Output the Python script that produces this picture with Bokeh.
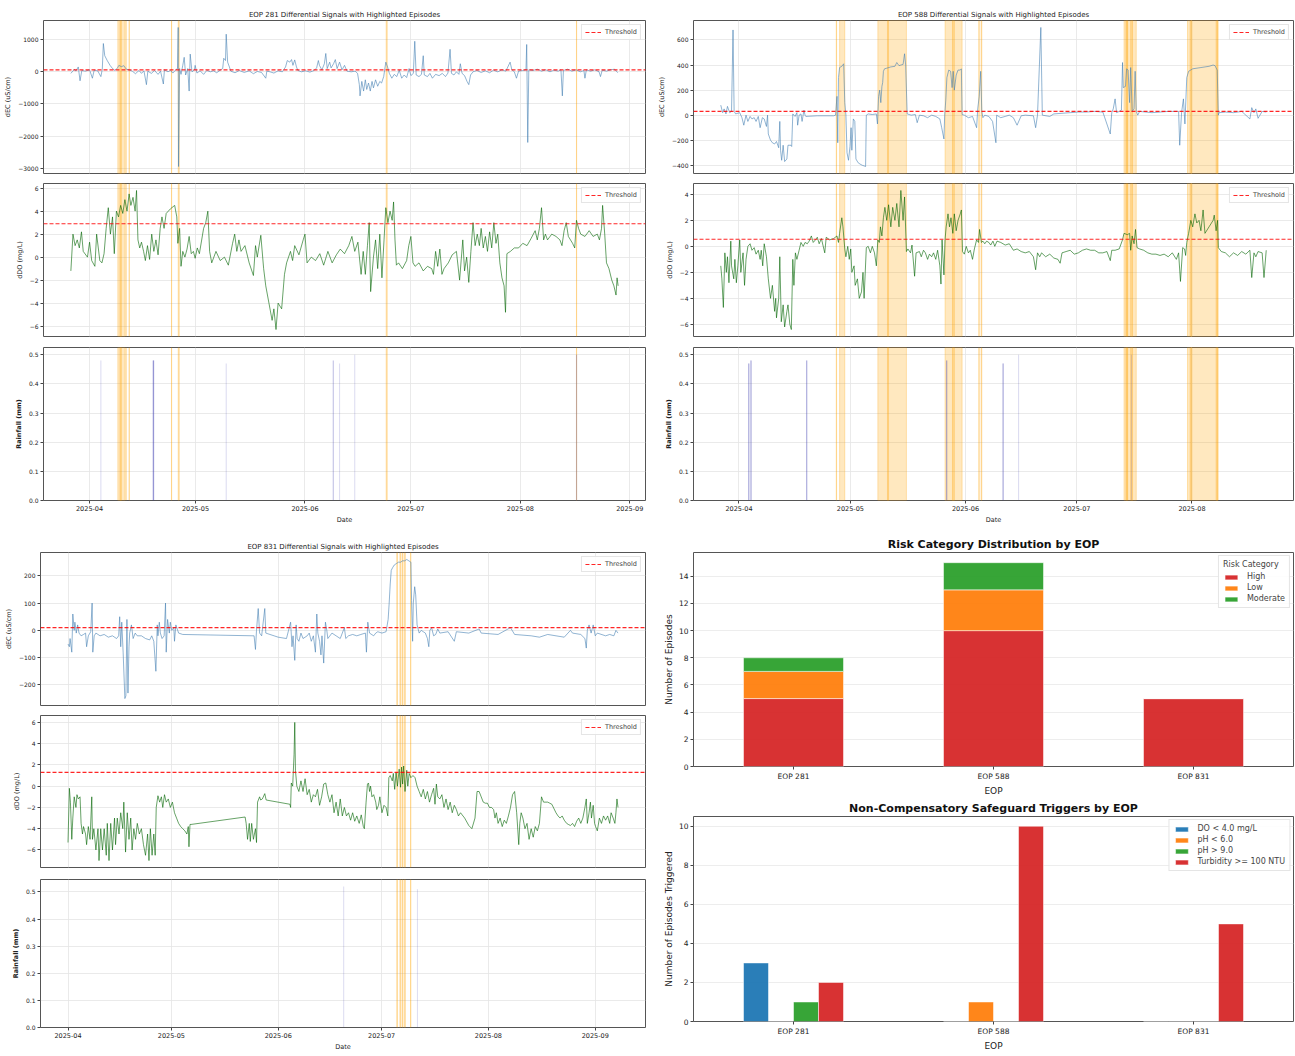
import calendar
import datetime as dt
from bokeh.plotting import figure
from bokeh.layouts import column, row
from bokeh.models import (Range1d, FactorRange, BoxAnnotation, Legend, LegendItem,
                          SingleIntervalTicker, MonthsTicker, DatetimeTickFormatter,
                          CustomJSTickFormatter, ColumnDataSource)
from bokeh.transform import dodge
from bokeh.embed import file_html
from bokeh.resources import INLINE

# ---------------- DATA (days since 2025-04-01) ----------------
ec281_day = [-5.3,-4.3,-3.9,-3.2,-2.7,-2.2,-1.2,0.0,0.8,1.3,2.3,3.2,3.6,3.9,4.3,5.0,5.8,6.5,7.2,7.9,8.3,9.0,9.7,10.4,11.2,12.1,13.0,14.0,14.7,15.4,16.1,16.5,17.5,18.4,19.4,20.1,20.9,21.2,22.2,22.9,23.6,24.4,24.9,25.1,25.2,25.5,25.9,26.4,26.8,27.2,27.8,28.2,28.5,29.0,29.7,29.9,30.4,31.3,32.3,33.2,34.2,35.1,36.0,37.0,37.7,38.0,38.5,38.7,39.1,39.6,40.0,41.2,42.4,43.8,45.2,46.4,47.5,48.7,49.9,50.2,51.1,52.2,53.4,54.6,55.5,56.0,56.7,57.2,57.6,58.1,58.6,59.0,60.0,61.2,62.4,63.6,64.3,64.8,65.1,65.8,66.5,66.9,67.3,68.0,68.4,69.1,69.6,70.1,70.8,71.5,72.2,72.9,74.1,75.2,75.9,76.4,76.6,77.1,77.6,78.1,78.5,79.0,79.5,80.0,80.4,81.0,81.6,82.2,82.7,83.3,83.9,84.4,84.9,85.6,86.3,87.0,87.7,88.4,89.1,89.8,90.5,91.0,91.7,92.1,92.5,93.3,94.0,94.5,94.8,95.7,96.4,97.1,98.0,99.0,99.9,100.8,101.5,102.1,102.5,103.2,103.9,104.6,105.0,105.5,106.2,106.9,107.4,107.9,108.6,109.7,110.9,112.1,113.3,114.4,115.6,116.8,117.9,119.1,119.6,120.3,120.9,121.5,122.7,123.6,123.8,124.1,124.4,125.6,126.8,128.0,129.2,130.4,131.5,132.7,133.5,133.9,134.2,135.4,136.6,137.8,139.0,140.0,140.3,140.7,141.9,143.1,144.3,144.7,145.2,146.4,147.5,148.7,149.6]
ec281_val = [-50,80,20,150,-280,40,20,60,-200,50,30,-150,80,880,500,350,200,100,40,120,200,160,190,80,60,20,-60,40,-50,30,-400,20,-50,40,-80,20,-380,60,0,40,-40,60,100,1380,-2950,100,-80,200,450,-100,100,-600,550,0,60,200,-40,30,-80,40,0,30,-30,50,100,420,350,1170,300,150,20,-30,40,-20,30,-60,10,-20,-200,20,0,-40,30,0,150,350,300,380,200,370,150,40,0,30,-10,40,120,350,200,60,250,570,100,300,120,250,380,100,300,60,200,20,0,20,-50,-400,-750,-300,-600,-250,-550,-350,-600,-300,-500,-250,-450,-300,-350,-150,300,150,-50,-200,-80,-150,50,-200,-100,-180,100,-120,-50,950,-100,-150,-80,500,-100,-150,-50,-200,-80,-120,-50,-150,-40,700,-50,-100,0,-80,250,-50,-120,-300,-400,-100,0,40,-20,30,-30,50,0,60,20,300,60,0,-200,20,40,60,850,-2200,60,40,80,20,60,0,50,20,60,-750,40,80,20,60,0,40,-200,60,20,60,0,-150,50,20,60,80,-30]

do281_day = [-5.3,-4.7,-4.1,-3.5,-2.9,-2.3,-1.8,-0.6,0.0,0.6,1.5,2.0,2.9,3.5,4.1,4.7,5.3,5.9,6.5,7.0,7.6,8.2,8.8,9.4,10.0,10.6,11.2,11.7,12.3,12.9,13.3,13.7,14.2,14.7,15.3,15.8,16.4,17.0,17.6,18.2,18.8,19.4,20.0,20.5,21.1,21.7,22.9,24.1,24.7,25.0,25.5,25.9,26.4,27.0,27.6,28.2,28.8,29.4,29.9,30.5,31.1,32.3,32.9,33.5,34.0,34.6,35.8,37.0,38.2,39.3,40.5,41.1,41.7,42.3,42.9,44.0,45.2,46.4,47.0,47.5,48.5,49.3,49.9,50.8,51.7,52.2,52.8,53.4,54.4,55.2,55.8,56.9,57.5,58.1,59.3,60.5,61.0,61.6,62.8,64.0,65.2,66.3,67.5,68.7,69.9,71.0,72.2,73.4,74.3,75.1,76.0,76.9,77.5,78.1,78.7,79.2,79.6,80.4,81.0,81.6,82.2,82.8,83.4,83.9,84.5,85.1,85.7,86.1,86.5,86.9,87.5,88.6,89.8,90.4,91.0,91.6,92.2,93.3,94.5,95.7,96.9,97.4,98.0,98.6,99.2,99.8,100.4,101.6,102.7,103.9,104.8,105.7,106.2,106.8,107.4,108.0,108.6,109.2,109.8,110.4,110.9,111.5,112.1,112.7,113.3,113.9,114.5,115.1,115.6,116.2,116.8,117.4,117.8,118.2,119.2,120.3,121.5,122.7,123.9,125.0,126.2,126.8,127.4,128.0,128.6,129.1,129.7,130.9,132.1,133.2,133.8,134.4,135.0,135.6,136.8,137.4,137.9,138.5,139.1,140.3,141.5,142.6,143.8,144.4,145.0,145.3,145.9,146.4,147.1,147.9,148.5,149.1,149.4,149.7]
do281_val = [-1.2,2.0,1.0,1.5,0.8,2.2,0.5,0.0,1.3,-0.3,-0.8,2.0,-0.3,-0.5,0.3,2.5,4.3,2.0,3.5,0.3,4.0,3.5,4.5,3.8,5.0,4.0,5.5,4.5,5.2,4.0,5.8,1.5,0.8,1.3,0.5,-0.3,1.0,-0.2,2.0,0.5,1.5,0.2,2.5,3.5,2.5,3.8,4.2,4.5,3.5,1.2,2.5,-0.8,0.5,0.0,0.7,1.8,0.3,0.5,-0.1,0.8,0.3,2.5,3.0,4.0,0.5,-0.5,0.5,-0.3,0.0,-0.7,1.2,2.0,0.5,1.5,0.5,1.0,-0.5,-1.6,1.0,0.0,1.9,-1.0,-2.5,-4.0,-5.5,-4.5,-6.3,-4.0,-4.5,-1.5,-0.5,0.5,-0.3,1.0,0.2,1.5,2.0,-0.5,0.0,-0.3,0.3,-0.7,0.5,-0.5,0.2,0.7,0.3,1.0,1.8,0.5,1.3,-1.5,0.5,-1.5,1.0,3.0,-3.0,0.0,1.5,-1.0,2.0,-1.8,1.5,4.3,3.0,4.0,3.2,4.8,1.5,-0.7,-0.5,-1.0,-0.3,1.0,1.8,-0.5,-0.8,-0.5,-1.2,-0.8,-1.0,-1.5,0.5,-0.8,0.7,-1.5,-1.0,-0.5,0.2,0.5,-2.0,1.5,-1.2,0.0,-2.2,0.5,3.0,1.0,2.0,1.0,2.5,0.8,1.8,0.5,2.2,0.8,3.0,1.2,2.0,-0.5,-1.8,-2.5,-4.8,0.3,0.5,0.8,0.8,1.2,1.0,1.6,2.3,1.5,2.5,4.3,1.5,2.0,1.5,2.0,1.8,1.5,1.0,2.3,3.0,1.8,1.2,0.8,3.2,2.5,2.0,1.8,2.3,1.8,2.0,1.5,2.5,4.5,2.0,-0.5,-1.0,-2.0,-2.5,-3.3,-1.8,-2.5]

rain281_day = [3.2,18.0,18.04,18.08,18.13,18.17,38.7,69.0,69.04,70.8,75.1,137.9,137.94]
rain281_mm = [0.48,0.48,0.48,0.48,0.48,0.48,0.47,0.48,0.48,0.47,0.50,0.50,0.50]
ep281_start = [8.0,8.6,10.3,11.2,23.2,25.1,84.0,137.9]
ep281_end = [9.0,10.0,10.35,11.25,23.25,25.4,84.3,137.95]
thr281_ec = 60
thr281_do = 2.9

ec588_day = [-4.9,-4.4,-4.0,-3.5,-3.1,-2.5,-2.0,-1.6,-1.3,-0.9,0.2,0.8,1.3,1.9,2.4,3.0,3.5,4.1,4.6,5.2,5.7,6.3,6.8,7.4,7.7,7.9,8.5,9.0,9.6,10.1,10.7,11.0,11.2,11.5,11.9,12.3,12.9,13.2,14.0,14.2,14.5,15.1,15.6,15.8,16.2,16.7,17.0,17.5,17.8,18.0,21.1,25.5,26.0,26.4,26.6,26.8,27.1,27.7,28.2,28.5,28.8,29.1,29.5,29.9,30.2,30.4,30.8,31.2,31.5,32.1,32.6,33.2,33.7,34.1,34.3,34.8,35.9,37.0,37.3,37.6,37.9,38.2,38.5,38.7,38.9,39.2,39.8,40.9,42.0,42.5,43.1,43.6,44.2,44.6,44.9,45.3,46.4,47.5,48.0,48.6,49.7,50.8,51.9,53.0,54.1,54.6,55.2,55.4,55.7,56.0,56.5,57.0,57.4,57.7,58.0,58.5,59.0,59.6,59.9,60.1,60.7,61.8,62.9,64.0,64.3,64.7,65.1,65.4,65.7,66.2,67.3,68.3,69.2,69.4,70.5,71.7,72.8,73.9,74.9,76.0,77.1,79.3,79.9,80.4,81.3,81.7,83.7,84.8,87.0,89.2,91.4,93.6,95.8,98.0,100.0,100.4,100.8,101.3,101.7,102.4,103.0,103.3,103.5,104.1,104.4,104.8,105.2,105.5,105.9,106.4,106.7,107.0,107.4,107.9,111.2,115.6,118.4,118.7,119.2,119.7,120.1,120.6,121.1,122.2,124.4,126.6,127.7,128.2,128.8,129.1,129.3,131.0,133.2,135.4,137.6,138.1,138.7,139.2,139.8,140.9,142.0]
ec588_val = [80,20,50,10,70,20,30,680,30,10,20,-20,-80,0,-50,-10,-30,-20,-50,-10,-100,-20,-30,-90,0,-150,-200,-220,-230,-210,-260,-50,-280,-360,-240,-370,-350,-240,-240,-250,10,-10,20,-80,0,10,-50,40,0,-10,-5,-5,0,150,-220,300,380,390,410,100,0,-300,-360,-250,-100,-280,-30,-50,-350,-380,-390,-400,-405,-410,0,10,5,10,-70,150,200,100,230,260,350,370,375,385,390,420,395,400,405,490,400,10,0,5,-60,0,-5,-20,0,-10,-30,-100,-190,0,120,300,360,350,220,350,200,320,360,360,370,5,0,-20,-10,-100,50,150,350,30,-20,0,-10,-50,-220,0,-20,-10,0,-20,-80,-5,0,-5,-100,0,700,0,-10,10,15,20,25,25,30,25,-150,20,50,130,20,30,40,420,220,230,370,360,100,380,30,50,350,30,0,30,20,30,30,-240,20,130,-70,300,350,370,380,390,400,395,360,0,20,25,20,30,-30,60,20,50,-25,30,25]

do588_day = [-4.9,-4.6,-4.2,-3.8,-3.4,-3.1,-2.7,-2.2,-2.0,-1.4,-1.1,-0.7,-0.3,0.2,0.5,1.1,1.5,1.9,2.4,3.0,3.5,4.1,4.6,5.2,5.7,6.0,6.4,6.8,7.4,7.9,8.5,9.0,9.6,9.9,10.1,10.7,11.0,11.4,11.9,12.3,12.9,13.2,13.7,14.1,14.5,14.8,15.2,15.6,16.2,16.7,17.3,17.8,18.4,18.9,19.5,20.0,20.6,21.1,21.6,22.2,23.1,23.5,24.4,25.5,26.4,26.8,27.1,27.7,28.0,28.5,28.8,29.3,29.7,30.1,30.4,31.0,31.3,31.9,32.4,33.0,33.4,33.7,34.3,34.8,35.4,35.9,36.5,37.0,37.4,37.8,38.1,38.5,38.9,39.3,39.8,40.3,40.9,41.4,42.0,42.5,43.1,43.6,44.2,44.6,45.1,45.5,46.2,46.6,47.3,47.7,48.6,49.1,49.7,50.2,50.8,51.3,51.9,52.4,53.0,53.5,54.1,54.4,54.7,55.2,55.5,55.8,56.3,56.7,57.1,57.6,58.0,58.5,59.0,59.6,59.9,60.2,60.7,61.2,61.8,62.3,62.9,63.4,64.0,64.5,64.8,65.3,65.7,66.2,66.7,67.3,67.8,68.4,68.9,69.5,70.5,71.7,72.8,73.9,74.9,76.0,77.1,78.2,79.3,79.9,80.4,81.0,81.5,82.6,83.7,84.8,85.9,86.5,87.0,88.1,89.2,90.3,91.4,92.5,93.6,94.7,95.8,96.9,98.0,99.1,100.0,100.4,101.3,102.4,103.3,103.7,104.6,105.2,105.5,105.9,106.4,106.8,107.2,107.9,109.0,110.1,111.2,112.3,113.4,114.5,115.6,116.7,117.8,118.4,118.9,119.5,120.0,120.3,120.6,121.1,121.7,122.2,122.8,123.3,123.9,124.4,125.0,125.5,126.6,127.7,128.0,128.5,128.9,129.1,129.9,131.0,132.1,133.2,134.3,135.4,136.5,137.6,138.1,138.7,139.2,139.8,140.9,141.4,142.0]
do588_val = [-1.5,-2.5,-4.7,-0.5,-2.0,-0.8,-2.8,0.4,-1.5,-2.5,-1.0,-2.8,-1.5,0.5,-2.0,-0.5,-3.0,-1.0,0.0,0.2,-0.3,-0.1,-0.6,-0.3,-1.0,-0.3,-1.5,0.2,-0.8,-2.5,-4.0,-3.0,-5.0,-4.0,-5.5,-4.0,-0.8,-5.8,-4.5,-6.2,-5.0,-4.5,-6.0,-6.4,-1.0,-3.0,-0.5,-1.0,-0.3,0.3,0.0,0.3,0.2,0.4,0.8,0.3,0.5,0.7,0.2,0.6,-0.5,0.7,0.5,0.6,0.8,0.3,1.0,2.2,1.5,-0.2,-0.8,0.0,-1.0,-0.2,-2.0,-1.5,-3.0,-2.5,-4.0,-3.5,-2.0,-4.0,-0.1,0.0,-0.5,0.0,-0.5,-1.5,0.5,0.3,1.5,0.8,2.2,3.0,2.0,3.2,1.5,3.0,2.0,3.3,1.5,4.3,2.0,3.8,-0.4,-0.2,-0.5,0.1,-2.3,-0.5,-0.4,-0.8,-0.3,-0.5,-1.0,-0.6,-0.8,-0.5,-1.0,-0.3,-1.5,-2.9,0.5,-2.2,0.5,1.5,2.5,1.5,2.2,1.0,2.5,1.2,2.0,2.5,2.8,-0.4,-0.6,0.0,-0.5,-0.3,-1.0,-0.2,0.5,0.3,1.3,0.3,0.4,0.2,0.4,0.3,0.1,0.4,0.0,0.4,0.3,0.1,0.2,-0.3,-0.2,-0.4,-0.5,-0.4,-0.8,-1.8,-0.5,-0.8,-0.5,-0.8,-0.6,-0.9,-1.0,-1.3,-0.5,-0.4,-0.3,-0.6,-0.5,-0.3,-0.2,-0.3,-0.3,-0.5,-0.5,-0.4,-1.1,-0.3,-0.3,-0.2,0.5,1.0,0.9,1.0,-0.3,0.8,0.2,1.3,-0.1,-0.2,-0.3,-0.5,-0.6,-0.6,-0.7,-0.6,-0.8,-0.5,-1.0,-0.5,-2.7,-0.1,-0.2,-0.7,0.3,1.0,2.0,1.5,2.5,1.8,2.0,1.2,2.8,1.0,1.5,2.0,2.4,1.2,2.0,-0.1,-0.4,-0.5,-0.8,-0.5,-0.7,-0.4,-0.6,-0.3,-2.4,-0.5,-0.8,-0.4,-0.5,-2.4,-0.3]

rain588_day = [2.6,2.64,2.68,3.2,3.24,3.28,18.2,18.24,18.28,55.9,55.94,55.98,71.1,71.14,71.18,75.3,105.7]
rain588_mm = [0.47,0.47,0.47,0.48,0.48,0.48,0.48,0.48,0.48,0.48,0.48,0.48,0.47,0.47,0.47,0.50,0.50]
ep588_start = [26.2,27.1,37.4,40.0,55.5,57.5,64.6,65.2,103.7,104.2,104.6,105.5,120.8,121.5,128.5]
ep588_end = [26.3,28.5,40.3,45.1,58.0,60.1,64.7,65.4,104.4,106.0,104.7,107.0,122.0,129.0,129.0]
thr588_ec = 30
thr588_do = 0.55

ec831_day = [0.0,0.4,0.6,1.1,1.4,1.8,2.0,2.4,2.8,3.2,3.8,4.5,5.1,5.4,5.9,6.6,7.0,7.2,7.6,8.1,9.3,10.5,11.7,12.9,14.1,14.7,15.0,15.3,15.6,16.0,16.5,16.8,17.1,17.4,17.7,17.9,18.4,18.9,19.5,20.1,21.3,22.5,23.7,24.3,24.9,25.5,25.9,26.1,26.5,26.8,27.3,27.9,28.3,28.5,28.9,29.4,29.7,30.1,30.7,30.9,31.3,32.1,33.3,54.0,54.4,54.7,55.2,55.6,56.2,57.1,57.4,58.6,59.8,61.0,63.4,64.0,64.6,65.0,65.3,65.8,66.2,66.5,67.0,67.6,68.2,69.4,70.0,70.6,71.2,71.8,72.2,72.5,73.0,73.4,73.7,74.2,74.7,75.1,75.4,76.6,77.8,79.0,79.6,80.2,80.6,81.4,82.6,83.8,85.0,86.3,86.6,87.0,87.5,88.7,89.3,89.9,91.1,92.3,92.9,93.2,93.5,93.8,94.2,94.7,95.3,95.9,96.5,97.1,97.7,98.3,98.9,99.5,99.7,100.0,100.2,100.6,100.9,101.3,101.9,102.5,103.1,103.7,104.3,104.7,105.0,105.5,106.1,106.7,107.3,107.9,110.3,112.1,112.7,116.3,119.3,119.9,124.8,128.4,129.6,134.4,136.8,139.2,141.6,144.0,145.8,146.4,148.8,150.0,150.4,150.7,151.2,151.8,152.4,153.0,153.6,156.0,157.2,158.4,159.0,159.6]
ec831_val = [-50,-60,-30,-80,60,0,30,-10,20,-10,-20,-15,-10,-60,-20,-5,100,-80,-20,-10,-20,-15,-25,-20,-30,-20,50,-60,30,-80,-250,-240,40,-230,-60,-10,20,-30,-10,-20,-20,-30,-35,-20,-40,-150,20,-20,30,-10,-30,-20,100,-80,40,-10,30,0,10,-40,20,-10,-15,-20,-70,0,80,-10,-20,80,-10,-15,-20,-25,-30,0,30,-60,-20,-110,20,-30,-40,-10,-30,-20,-10,-40,-20,-80,60,-10,-40,-90,-20,-120,30,0,-30,-10,-20,-30,-10,10,-30,-20,-15,-20,-15,-10,-80,30,-10,-20,-10,-5,-10,-5,40,100,170,220,230,240,245,250,250,255,255,260,255,250,110,-40,100,160,130,20,-10,0,-5,-10,-30,-60,0,10,-20,-15,5,-10,-5,-40,-5,-10,5,-10,-15,10,-15,-20,-25,-15,-20,-25,0,-10,-15,-30,-65,0,20,-10,20,-20,-10,-20,-15,-20,0,-10]

do831_day = [0.0,0.4,0.7,1.1,1.4,1.8,2.3,2.6,3.0,3.5,3.8,4.2,4.5,5.1,5.4,5.9,6.4,6.9,7.1,7.5,8.1,8.7,9.0,9.5,10.0,10.5,11.1,11.4,11.9,12.4,12.9,13.5,13.8,14.3,14.8,15.3,15.9,16.2,16.7,17.2,17.7,18.2,18.6,19.1,19.6,20.1,20.7,21.3,21.9,22.5,23.1,23.5,23.9,24.4,24.9,25.3,25.6,26.1,26.6,27.1,27.5,28.0,28.5,29.1,29.7,30.3,30.9,31.5,32.1,32.7,33.3,33.9,34.5,34.9,35.1,35.4,35.7,51.4,51.7,52.1,52.6,52.9,53.3,53.8,54.4,54.7,55.0,55.6,55.9,56.4,57.1,57.5,64.4,64.6,64.8,65.2,65.6,65.8,66.0,66.4,67.0,67.6,68.2,68.8,69.4,70.0,70.6,71.2,71.8,72.4,73.0,73.6,74.2,74.8,75.4,76.0,76.6,77.2,77.8,78.4,79.0,79.6,80.2,80.8,81.4,82.0,82.6,83.2,83.8,84.5,85.1,85.7,86.0,86.5,86.9,87.2,87.5,87.8,88.2,88.7,89.3,89.6,90.1,90.5,91.1,91.7,92.3,92.8,93.1,93.5,94.1,94.4,94.8,95.2,95.6,96.1,96.5,96.8,97.1,97.4,97.8,98.3,98.6,99.0,99.5,100.1,100.7,101.3,101.9,102.5,103.1,103.7,104.3,104.9,105.5,106.1,106.5,106.9,107.3,107.9,108.5,109.1,109.7,110.3,110.9,111.5,112.1,112.7,113.3,113.9,115.1,116.3,117.2,118.1,118.7,119.3,119.9,120.5,121.1,121.7,122.3,122.9,123.5,123.9,124.3,124.8,125.4,126.0,126.6,127.2,127.8,128.4,129.0,129.6,130.2,130.8,131.1,131.5,132.0,132.6,133.2,133.8,134.4,135.0,135.6,136.2,136.8,137.4,138.0,139.2,139.8,140.4,141.6,142.2,142.8,143.4,144.0,144.7,145.2,145.8,146.4,147.0,147.6,148.2,148.8,149.4,150.0,150.4,150.7,151.2,151.6,151.9,152.4,152.8,153.1,153.6,154.2,154.8,155.4,156.0,156.6,157.2,157.6,158.2,158.7,159.0,159.3,159.6]
do831_val = [-5.3,-0.2,-1.5,-5.0,-3.0,-1.0,-2.0,-0.8,-1.2,-1.0,-3.5,-4.5,-3.8,-4.5,-5.5,-3.8,-5.0,-1.0,-5.0,-4.0,-6.0,-4.0,-7.0,-4.0,-6.0,-4.0,-6.5,-3.5,-7.0,-3.5,-6.0,-3.0,-5.5,-3.0,-4.5,-2.5,-4.0,-1.5,-6.2,-2.5,-5.0,-3.0,-6.0,-4.0,-5.0,-3.5,-4.5,-4.0,-5.5,-6.5,-4.5,-7.0,-4.0,-6.5,-4.5,-6.5,-2.0,-0.9,-1.5,-1.0,-2.0,-0.8,-1.5,-1.2,-2.0,-1.5,-2.5,-3.0,-3.5,-3.8,-4.0,-4.2,-4.5,-3.8,-5.7,-3.6,-3.6,-2.9,-3.5,-5.0,-3.5,-5.2,-3.5,-5.0,-4.0,-5.3,-1.5,-1.0,-1.3,-1.2,-0.7,-1.3,-1.7,-2.0,0.3,0.0,3.0,6.0,1.5,0.0,-0.5,0.5,-0.5,0.7,-0.8,-0.3,-1.5,-0.8,-1.0,-0.3,-1.8,-1.0,0.2,0.3,-0.8,-1.5,-0.8,-2.5,-1.5,-2.8,-1.2,-2.8,-2.0,-2.8,-2.5,-3.2,-2.5,-3.3,-2.8,-3.5,-2.7,-3.8,-4.0,-1.5,0.2,0.3,-0.5,0.0,-1.0,-0.8,-1.5,-2.2,-1.8,-1.0,-2.5,-1.8,-2.0,-2.8,0.8,1.0,0.5,1.2,-0.3,1.3,0.0,1.6,-0.1,1.8,0.2,1.9,-0.5,1.5,0.0,1.2,0.8,1.0,0.8,0.0,-0.5,-1.0,-0.3,-1.2,-0.5,-1.5,-0.8,-0.2,-1.7,0.2,-1.0,-1.2,-0.8,-2.0,-1.2,-2.2,-1.5,-2.5,-1.8,-2.2,-2.8,-2.5,-3.0,-3.7,-4.0,-3.0,-0.5,-0.5,-1.0,-1.5,-1.6,-1.6,-2.0,-2.0,-2.2,-3.0,-2.5,-3.5,-3.0,-3.8,-3.2,-3.5,-2.8,-2.0,-0.8,-0.5,-2.5,-5.5,-3.5,-2.5,-3.0,-4.0,-3.5,-5.0,-4.0,-4.8,-3.8,-4.2,-3.5,-1.0,-1.5,-1.5,-1.6,-1.7,-2.5,-2.8,-3.0,-2.8,-3.2,-3.5,-3.6,-3.7,-3.5,-3.8,-3.3,-3.0,-3.5,-3.0,-2.0,-1.2,-3.5,-2.5,-1.5,-3.0,-1.8,-3.5,-3.8,-4.2,-3.0,-3.5,-2.8,-3.2,-2.8,-3.5,-2.5,-3.0,-3.5,-2.5,-1.2,-2.0]

rain831_day = [80.0,101.4]
rain831_mm = [0.52,0.51]
ep831_start = [95.4,96.3,97.0,97.6,99.4]
ep831_end = [95.6,96.6,97.2,97.9,99.5]
thr831_ec = 10
thr831_do = 1.3

eop_labels = ["EOP 281", "EOP 588", "EOP 831"]
risk_high = [5, 10, 5]
risk_low = [2, 3, 0]
risk_moderate = [1, 2, 0]

sg_do_low = [3, 0, 0]
sg_ph_low = [0, 1, 0]
sg_ph_high = [1, 0, 0]
sg_turbidity = [2, 10, 5]

# ---------------- HELPERS ----------------
FONT = "DejaVu Sans"
BASE_MS = calendar.timegm(dt.datetime(2025, 4, 1).timetuple()) * 1000.0
DAY_MS = 86400000.0
RED, ORANGE, GREEN, BLUE = "#d62728", "#ff7f0e", "#2ca02c", "#1f77b4"


def ms(days):
    return [BASE_MS + d * DAY_MS for d in days]


def pad_range(vals):
    lo, hi = min(vals), max(vals)
    pad = 0.05 * (hi - lo)
    return Range1d(lo - pad, hi + pad)


def fmt_int():
    return CustomJSTickFormatter(code="return (tick < 0 ? '\u2212' : '') + Math.abs(tick).toFixed(0);")


def style_ts(p, ylabel, ystep, show_dates, yfmt):
    p.outline_line_color = "#555555"
    p.outline_line_width = 1
    for ax in p.axis:
        ax.axis_line_color = None
        ax.major_tick_in = 0
        ax.major_tick_out = 3
        ax.major_tick_line_color = "#444444"
        ax.minor_tick_line_color = None
        ax.major_label_text_font = FONT
        ax.major_label_text_font_size = "6px"
        ax.major_label_text_color = "#222222"
        ax.major_label_standoff = 2
        ax.axis_label_text_font = FONT
        ax.axis_label_text_font_size = "6.5px"
        ax.axis_label_text_font_style = "normal"
        ax.axis_label_text_color = "#222222"
        ax.axis_label_standoff = 3
    months = MonthsTicker(months=list(range(1, 13)))
    p.xaxis.ticker = months
    p.xgrid.ticker = months
    p.xaxis.formatter = DatetimeTickFormatter(months="%Y-%m", days="%Y-%m", years="%Y-%m")
    if show_dates:
        p.xaxis.axis_label = "Date"
        p.xaxis.major_label_text_font_size = "6.5px"
        p.xaxis.axis_label_standoff = 2
    else:
        p.xaxis.visible = False
    p.yaxis.axis_label = ylabel
    p.yaxis.ticker = SingleIntervalTicker(interval=ystep, num_minor_ticks=0)
    p.yaxis.formatter = yfmt
    p.grid.grid_line_color = "#e4e4e4"
    p.grid.grid_line_width = 0.8


def add_episodes(p, starts, ends):
    for s, e in zip(starts, ends):
        p.add_layout(BoxAnnotation(left=ms([s])[0], right=ms([e])[0], fill_color="orange",
                                   fill_alpha=0.25, line_color="orange", line_alpha=0.35,
                                   line_width=0.8, level="underlay"))


def add_threshold(p, xr, thr):
    r = p.line([xr.start, xr.end], [thr, thr], line_color="red", line_dash="4 2",
               line_width=1.1, line_alpha=0.85)
    leg = Legend(items=[LegendItem(label="Threshold", renderers=[r])], location="top_right",
                 label_text_font=FONT, label_text_font_size="6.5px", glyph_width=16, glyph_height=8,
                 label_height=8, padding=3, margin=4, spacing=0, label_standoff=4,
                 border_line_color="#cccccc", background_fill_alpha=0.85)
    p.add_layout(leg)


def ts_panel(title, ec_d, ec_v, do_d, do_v, thr_ec, thr_do, rn_d, rn_v, ep_s, ep_e,
             width, mbl, mbr, heights, tops, bots, ec_step):
    all_d = ec_d + do_d
    lo, hi = min(all_d), max(all_d)
    pad = 0.05 * (hi - lo)
    figs = []
    common = dict(width=width, x_axis_type="datetime", output_backend="svg", toolbar_location=None,
                  min_border_left=mbl, min_border_right=mbr)

    xr = Range1d(ms([lo - pad])[0], ms([hi + pad])[0])
    p1 = figure(height=heights[0], x_range=xr, y_range=pad_range(ec_v),
                min_border_top=tops[0], min_border_bottom=bots[0], **common)
    p1.title.text = title
    p1.title.align = "center"
    p1.title.text_font = FONT
    p1.title.text_font_size = "7px"
    p1.title.text_font_style = "normal"
    p1.title.text_color = "#222222"
    p1.title.standoff = 3
    add_episodes(p1, ep_s, ep_e)
    p1.line(ms(ec_d), ec_v, color="#4682b4", line_width=0.8, alpha=0.75)
    add_threshold(p1, xr, thr_ec)
    style_ts(p1, "dEC (uS/cm)", ec_step, False, fmt_int())
    figs.append(p1)

    p2 = figure(height=heights[1], x_range=xr, y_range=pad_range(do_v),
                min_border_top=tops[1], min_border_bottom=bots[1], **common)
    add_episodes(p2, ep_s, ep_e)
    p2.line(ms(do_d), do_v, color="#006400", line_width=0.8, alpha=0.75)
    add_threshold(p2, xr, thr_do)
    style_ts(p2, "dDO (mg/L)", 2, False, fmt_int())
    figs.append(p2)

    p3 = figure(height=heights[2], x_range=xr, y_range=Range1d(0, 1.05 * max(rn_v)),
                min_border_top=tops[2], min_border_bottom=bots[2], **common)
    add_episodes(p3, ep_s, ep_e)
    p3.vbar(x=ms(rn_d), top=rn_v, bottom=0, width=0.3 * DAY_MS, fill_color="#4040b0",
            fill_alpha=0.18, line_color=None)
    style_ts(p3, "Rainfall (mm)", 0.1, True,
             CustomJSTickFormatter(code="return tick.toFixed(1);"))
    p3.yaxis.axis_label_text_font_style = "bold"
    figs.append(p3)
    return column(*figs, spacing=0)


def style_bar(p, title, xlabel, ylabel, ystep):
    p.title.text = title
    p.title.align = "center"
    p.title.text_font = FONT
    p.title.text_font_size = "11px"
    p.title.text_font_style = "bold"
    p.title.text_color = "#111111"
    p.title.standoff = 3
    p.outline_line_color = "#555555"
    p.outline_line_width = 1
    for ax in p.axis:
        ax.axis_line_color = None
        ax.major_tick_in = 0
        ax.major_tick_out = 3
        ax.major_tick_line_color = "#444444"
        ax.minor_tick_line_color = None
        ax.major_label_text_font = FONT
        ax.major_label_text_font_size = "7.5px"
        ax.major_label_text_color = "#222222"
        ax.major_label_standoff = 2
        ax.axis_label_text_font = FONT
        ax.axis_label_text_font_size = "9px"
        ax.axis_label_text_font_style = "normal"
        ax.axis_label_text_color = "#222222"
        ax.axis_label_standoff = 2
    p.xaxis.axis_label = xlabel
    p.yaxis.axis_label = ylabel
    p.yaxis.ticker = SingleIntervalTicker(interval=ystep, num_minor_ticks=0)
    p.xgrid.grid_line_color = None
    p.ygrid.grid_line_color = "#e8e8e8"
    p.ygrid.grid_line_width = 0.8


def bar_legend(items, title=None):
    kw = dict(items=items, location="top_right", label_text_font=FONT, label_text_font_size="8px",
              glyph_width=16, glyph_height=6, label_height=9, padding=4, margin=3, spacing=2,
              label_standoff=8, border_line_color="#cccccc", background_fill_alpha=0.85)
    if title:
        kw.update(title=title, title_text_font=FONT, title_text_font_size="8px",
                  title_text_font_style="normal", title_standoff=3)
    return Legend(**kw)


# ---------------- LAYOUT ----------------
LW, RW = 655, 639
top_h = [178, 163, 193]
top_t = [20, 5, 6]
top_b = [5, 5, 34]
bot_h = [176, 162, 181]
bot_t = [18, 5, 7]
bot_b = [5, 5, 21]

panel281 = ts_panel("EOP 281 Differential Signals with Highlighted Episodes",
                    ec281_day, ec281_val, do281_day, do281_val, thr281_ec, thr281_do,
                    rain281_day, rain281_mm, ep281_start, ep281_end,
                    LW, 43, 10, top_h, top_t, top_b, 1000)
panel588 = ts_panel("EOP 588 Differential Signals with Highlighted Episodes",
                    ec588_day, ec588_val, do588_day, do588_val, thr588_ec, thr588_do,
                    rain588_day, rain588_mm, ep588_start, ep588_end,
                    RW, 35, 1, top_h, top_t, top_b, 200)
panel831 = ts_panel("EOP 831 Differential Signals with Highlighted Episodes",
                    ec831_day, ec831_val, do831_day, do831_val, thr831_ec, thr831_do,
                    rain831_day, rain831_mm, ep831_start, ep831_end,
                    LW, 40, 10, bot_h, bot_t, bot_b, 100)

# Risk category stacked bars
risk_src = ColumnDataSource(dict(eop=eop_labels, High=risk_high, Low=risk_low, Moderate=risk_moderate))
risk_tot = [a + b + c for a, b, c in zip(risk_high, risk_low, risk_moderate)]
pr = figure(width=RW, height=264, x_range=FactorRange(*eop_labels), y_range=Range1d(0, 1.05 * max(risk_tot)),
            output_backend="svg", toolbar_location=None, min_border_left=38, min_border_right=1,
            min_border_top=18, min_border_bottom=28)
rr = pr.vbar_stack(["High", "Low", "Moderate"], x="eop", width=0.5, source=risk_src,
                   fill_color=[RED, ORANGE, GREEN], fill_alpha=0.95,
                   line_color="white", line_alpha=0.5, line_width=1)
style_bar(pr, "Risk Category Distribution by EOP", "EOP", "Number of Episodes", 2)
pr.add_layout(bar_legend([LegendItem(label=n, renderers=[r]) for n, r in zip(["High", "Low", "Moderate"], rr)],
                         title="Risk Category"))

# Safeguard grouped bars
sg_src = ColumnDataSource(dict(eop=eop_labels, do=sg_do_low, phl=sg_ph_low, phh=sg_ph_high, turb=sg_turbidity))
sg_max = max(sg_do_low + sg_ph_low + sg_ph_high + sg_turbidity)
ps = figure(width=RW, height=255, x_range=FactorRange(*eop_labels), y_range=Range1d(0, 1.05 * sg_max),
            output_backend="svg", toolbar_location=None, min_border_left=38, min_border_right=1,
            min_border_top=16, min_border_bottom=23)
sg_items = []
for col, off, colr, lab in [("do", -0.1875, BLUE, "DO < 4.0 mg/L"),
                            ("phl", -0.0625, ORANGE, "pH < 6.0"),
                            ("phh", 0.0625, GREEN, "pH > 9.0"),
                            ("turb", 0.1875, RED, "Turbidity >= 100 NTU")]:
    r = ps.vbar(x=dodge("eop", off, range=ps.x_range), top=col, width=0.125, source=sg_src,
                fill_color=colr, fill_alpha=0.95, line_color="white", line_alpha=0.5, line_width=1)
    sg_items.append(LegendItem(label=lab, renderers=[r]))
style_bar(ps, "Non-Compensatory Safeguard Triggers by EOP", "EOP", "Number of Episodes Triggered", 2)
ps.add_layout(bar_legend(sg_items))

bars = column(pr, ps, spacing=0)
layout = column(row(panel281, panel588, spacing=0), row(panel831, bars, spacing=0), spacing=0)

open("out.html", "w").write(file_html(layout, INLINE))
